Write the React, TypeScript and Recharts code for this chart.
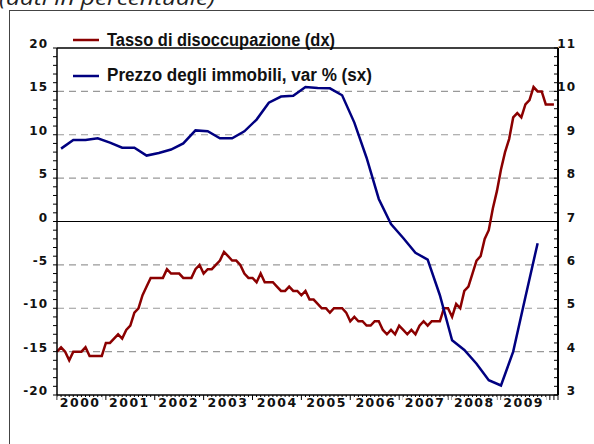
import { LineChart, Line, XAxis, YAxis, ReferenceLine, Customized } from 'recharts';

// Tick labels for the x axis (one per year)
const years = ['2000', '2001', '2002', '2003', '2004', '2005', '2006', '2007', '2008', '2009'];

// Tasso di disoccupazione, monthly from Jan 2000 to Mar 2010 (right axis)
const unemployment = [
  4.0, 4.1, 4.0, 3.8, 4.0, 4.0, 4.0, 4.1, 3.9, 3.9, 3.9, 3.9,
  4.2, 4.2, 4.3, 4.4, 4.3, 4.5, 4.6, 4.9, 5.0, 5.3, 5.5, 5.7,
  5.7, 5.7, 5.7, 5.9, 5.8, 5.8, 5.8, 5.7, 5.7, 5.7, 5.9, 6.0,
  5.8, 5.9, 5.9, 6.0, 6.1, 6.3, 6.2, 6.1, 6.1, 6.0, 5.8, 5.7,
  5.7, 5.6, 5.8, 5.6, 5.6, 5.6, 5.5, 5.4, 5.4, 5.5, 5.4, 5.4,
  5.3, 5.4, 5.2, 5.2, 5.1, 5.0, 5.0, 4.9, 5.0, 5.0, 5.0, 4.9,
  4.7, 4.8, 4.7, 4.7, 4.6, 4.6, 4.7, 4.7, 4.5, 4.4, 4.5, 4.4,
  4.6, 4.5, 4.4, 4.5, 4.4, 4.6, 4.7, 4.6, 4.7, 4.7, 4.7, 5.0,
  5.0, 4.8, 5.1, 5.0, 5.4, 5.5, 5.8, 6.1, 6.2, 6.6, 6.8, 7.3,
  7.7, 8.2, 8.6, 8.9, 9.4, 9.5, 9.4, 9.7, 9.8, 10.1, 10.0, 10.0,
  9.7, 9.7, 9.7,
];

// Prezzo degli immobili, var % yoy, quarterly 2000Q1 - 2009Q4 (left axis)
const housePrices = [
  8.4, 9.4, 9.4, 9.6,
  9.1, 8.5, 8.5, 7.6,
  7.9, 8.3, 9.0, 10.5,
  10.4, 9.6, 9.6, 10.4,
  11.75, 13.7, 14.4, 14.5,
  15.5, 15.4, 15.35, 14.55,
  11.4, 7.35, 2.6, -0.3,
  -1.9, -3.6, -4.4, -8.5,
  -13.7, -14.8, -16.4, -18.3,
  -18.9, -15.0, -8.7, -2.5,
];

const leftTicks = Array.from({ length: 41 }, (_, i) => i - 20);
const rightTicks = Array.from({ length: 41 }, (_, i) => Math.round((3 + i * 0.2) * 10) / 10);
const gridValues = [15, 10, 5, -5, -10, -15];
const monthTicks = Array.from({ length: 124 }, (_, i) => i);
const yearTicks = years.map((_, k) => k * 12 + 6);

// quarterly points sit on the middle month of each quarter
const data = unemployment.map((u, i) => ({
  m: i,
  unemp: u,
  price: i % 3 === 1 && (i - 1) / 3 < housePrices.length ? housePrices[(i - 1) / 3] : null,
}));

const RED = '#8b0000';
const BLUE = '#000080';
const axisFont = '"DejaVu Sans", Verdana, sans-serif';

const LeftTick = ({ x, y, payload }: any) =>
  payload.value % 5 === 0 ? (
    <text x={x - 3} y={y} textAnchor="end" fontFamily={axisFont} fontWeight="bold" fontSize={12} letterSpacing={1} fill="#111">
      {payload.value}
    </text>
  ) : (
    <g />
  );

const RightTick = ({ x, y, payload }: any) =>
  Number.isInteger(payload.value) ? (
    <text x={x + 22} y={y} textAnchor="end" fontFamily={axisFont} fontWeight="bold" fontSize={12} letterSpacing={1} fill="#111">
      {payload.value}
    </text>
  ) : (
    <g />
  );

const NoLabel = () => <g />;

const YearTick = ({ x, y, payload }: any) => (
  <g>
    <rect x={x - 24} y={y + 1} width={45} height={16} fill="#fff" />
    <text x={x - 1.5} y={y + 11} textAnchor="middle" fontFamily={axisFont} fontWeight="bold" fontSize={12.5} letterSpacing={1.5} fill="#111">
      {years[(payload.value - 6) / 12]}
    </text>
  </g>
);

const Overlay = () => (
  <g>
    <text x={-1} y={5} fontFamily='"Open Sans", sans-serif' fontStyle="italic" fontSize={20} fill="#222" textLength={216} lengthAdjust="spacingAndGlyphs">
      (dati in percentuale)
    </text>
    <line x1={73} x2={99} y1={40} y2={40} stroke={RED} strokeWidth={2.5} />
    <text x={107} y={45.5} fontFamily='"Liberation Sans", Arial, sans-serif' fontWeight="bold" fontSize={18} fill="#111" textLength={228} lengthAdjust="spacingAndGlyphs">
      Tasso di disoccupazione (dx)
    </text>
    <line x1={73} x2={99} y1={76} y2={76} stroke={BLUE} strokeWidth={2.5} />
    <text x={107} y={80.5} fontFamily='"Liberation Sans", Arial, sans-serif' fontWeight="bold" fontSize={18} fill="#111" textLength={265} lengthAdjust="spacingAndGlyphs">
      Prezzo degli immobili, var % (sx)
    </text>
  </g>
);

export default function App() {
  return (
    <div style={{ position: 'absolute', left: 0, top: 0, width: 594, height: 444, overflow: 'hidden', background: '#fff' }}>
      <div
        style={{
          position: 'absolute',
          left: 9,
          top: 10,
          width: 620,
          height: 500,
          borderLeft: '1.5px solid #444',
          borderTop: '1.5px solid #444',
        }}
      />
      <LineChart
        width={594}
        height={444}
        data={data}
        margin={{ top: 48, left: 17, right: 6, bottom: 18 }}
        style={{ position: 'absolute', left: 0, top: 0 }}
      >
        <XAxis
          xAxisId="m"
          dataKey="m"
          type="number"
          domain={[0, 123]}
          ticks={monthTicks}
          interval={0}
          tick={<NoLabel />}
          tickSize={5}
          height={1}
          axisLine={{ stroke: '#000', strokeWidth: 1.5 }}
          tickLine={{ stroke: '#000', strokeWidth: 1 }}
        />
        <XAxis
          xAxisId="years"
          type="number"
          domain={[0, 123]}
          ticks={yearTicks}
          interval={0}
          axisLine={false}
          tickLine={false}
          tickSize={0}
          tickMargin={0}
          height={30}
          tick={<YearTick />}
        />
        <YAxis
          yAxisId="left"
          domain={[-20, 20]}
          ticks={leftTicks}
          interval={0}
          width={40}
          tickSize={4}
          tickMargin={2}
          axisLine={{ stroke: '#000', strokeWidth: 1.5 }}
          tickLine={{ stroke: '#000' }}
          tick={<LeftTick />}
        />
        <YAxis
          yAxisId="right"
          orientation="right"
          domain={[3, 11]}
          ticks={rightTicks}
          interval={0}
          width={30}
          tickSize={-4}
          tickMargin={0}
          axisLine={{ stroke: '#000', strokeWidth: 2 }}
          tickLine={{ stroke: '#000' }}
          tick={<RightTick />}
        />
        {gridValues.map((v) => (
          <ReferenceLine key={v} xAxisId="m" yAxisId="left" y={v} stroke="#999" strokeDasharray="7 5" strokeWidth={1.2} />
        ))}
        <ReferenceLine xAxisId="m" yAxisId="left" y={0} stroke="#000" strokeWidth={1} />
        <ReferenceLine xAxisId="m" yAxisId="left" y={20} stroke="#000" strokeWidth={1.5} />
        <Line
          xAxisId="m"
          yAxisId="right"
          type="linear"
          dataKey="unemp"
          stroke={RED}
          strokeWidth={2.5}
          dot={false}
          isAnimationActive={false}
        />
        <Line
          xAxisId="m"
          yAxisId="left"
          type="linear"
          dataKey="price"
          stroke={BLUE}
          strokeWidth={2.5}
          dot={false}
          connectNulls
          isAnimationActive={false}
        />
        <Customized component={Overlay} />
      </LineChart>
    </div>
  );
}
